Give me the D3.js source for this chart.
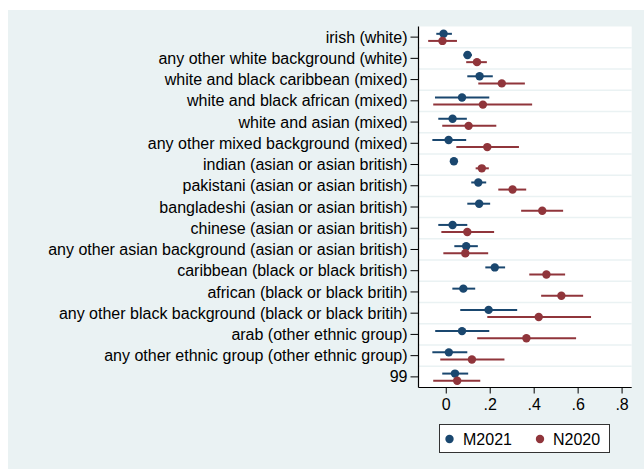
<!DOCTYPE html>
<html>
<head>
<meta charset="utf-8">
<script src="https://cdn.jsdelivr.net/npm/d3@7"></script>
<style>
  html, body { margin: 0; padding: 0; background: #ffffff; }
  svg { display: block; }
  text { font-family: "Liberation Sans", Arial, sans-serif; fill: #000; }
</style>
</head>
<body>
<svg id="chart" width="644" height="470"></svg>
<script>
// Categories (top to bottom)
const categories = [
  "irish (white)",
  "any other white background (white)",
  "white and black caribbean (mixed)",
  "white and black african (mixed)",
  "white and asian (mixed)",
  "any other mixed background (mixed)",
  "indian (asian or asian british)",
  "pakistani (asian or asian british)",
  "bangladeshi (asian or asian british)",
  "chinese (asian or asian british)",
  "any other asian background (asian or asian british)",
  "caribbean (black or black british)",
  "african (black or black britih)",
  "any other black background (black or black britih)",
  "arab (other ethnic group)",
  "any other ethnic group (other ethnic group)",
  "99"
];

// M2021 estimates with confidence bounds
const m2021Est = [-0.010, 0.099, 0.154, 0.074, 0.031, 0.013, 0.037, 0.148, 0.152, 0.031, 0.093, 0.223, 0.080, 0.195, 0.074, 0.014, 0.042];
const m2021Lo  = [-0.043, 0.081, 0.098, -0.049, -0.034, -0.061, 0.033, 0.116, 0.098, -0.034, 0.039, 0.180, 0.030, 0.066, -0.048, -0.061, -0.016];
const m2021Hi  = [0.028, 0.119, 0.214, 0.198, 0.096, 0.093, 0.041, 0.184, 0.202, 0.098, 0.146, 0.270, 0.134, 0.325, 0.198, 0.098, 0.102];

// N2020 estimates with confidence bounds
const n2020Est = [-0.015, 0.142, 0.255, 0.169, 0.104, 0.189, 0.164, 0.304, 0.439, 0.098, 0.089, 0.458, 0.526, 0.423, 0.367, 0.119, 0.052];
const n2020Lo  = [-0.080, 0.093, 0.148, -0.057, -0.016, 0.048, 0.136, 0.239, 0.343, -0.020, -0.011, 0.380, 0.434, 0.189, 0.143, -0.025, -0.057];
const n2020Hi  = [0.051, 0.187, 0.360, 0.393, 0.230, 0.333, 0.196, 0.366, 0.534, 0.220, 0.193, 0.543, 0.625, 0.661, 0.593, 0.267, 0.157];

const xTicks = [0, 0.2, 0.4, 0.6, 0.8];
const xTickLabels = ["0", ".2", ".4", ".6", ".8"];

const seriesNames = ["M2021", "N2020"];
const seriesColors = ["#1a476f", "#90353b"];

const series = [
  { name: seriesNames[0], color: seriesColors[0], est: m2021Est, lo: m2021Lo, hi: m2021Hi, offset: -3.3 },
  { name: seriesNames[1], color: seriesColors[1], est: n2020Est, lo: n2020Lo, hi: n2020Hi, offset: 3.8 }
];

const svg = d3.select("#chart");
const W = 644, H = 470;
const bg = "#eaf2f3";
const fontSize = "16px";

// Outer graph region
svg.append("rect").attr("x", 0).attr("y", 0).attr("width", W).attr("height", H).attr("fill", "#ffffff");
svg.append("rect").attr("x", 8).attr("y", 10).attr("width", W - 8).attr("height", H - 11).attr("fill", bg);

const plot = { left: 418.5, right: 631.7, top: 26.5, bottom: 387.5 };

const x = d3.scaleLinear().domain([-0.124, 0.846]).range([plot.left, plot.right]);
const y = d3.scaleBand().domain(categories).range([plot.top, plot.bottom]).padding(0);

// Plot region
svg.append("rect")
  .attr("x", plot.left).attr("y", plot.top)
  .attr("width", plot.right - plot.left).attr("height", plot.bottom - plot.top)
  .attr("fill", "#ffffff");

// Separators between categories
svg.append("g").selectAll("line")
  .data(categories.slice(1))
  .join("line")
  .attr("x1", plot.left).attr("x2", plot.right)
  .attr("y1", d => y(d)).attr("y2", d => y(d))
  .attr("stroke", bg).attr("stroke-width", 1.5);

// Y axis
const yAxis = svg.append("g")
  .attr("transform", `translate(${plot.left},0)`)
  .call(d3.axisLeft(y).tickSize(8).tickPadding(3));
yAxis.select(".domain").attr("stroke", "#000").attr("stroke-width", 1.2)
  .attr("d", `M0,${plot.top}V${plot.bottom}`);
yAxis.selectAll(".tick line").attr("stroke", "#000").attr("stroke-width", 1);
yAxis.selectAll(".tick text")
  .style("font-family", "'Liberation Sans', Arial, sans-serif")
  .style("font-size", fontSize).attr("fill", "#000").attr("dy", "0.35em");

// X axis
const xAxis = svg.append("g")
  .attr("transform", `translate(0,${plot.bottom})`)
  .call(d3.axisBottom(x).tickValues(xTicks).tickFormat((d, i) => xTickLabels[i]).tickSize(6).tickPadding(5));
xAxis.select(".domain").attr("stroke", "#000").attr("stroke-width", 1.2)
  .attr("d", `M${plot.left},0H${plot.right}`);
xAxis.selectAll(".tick line").attr("stroke", "#000").attr("stroke-width", 1);
xAxis.selectAll(".tick text")
  .style("font-family", "'Liberation Sans', Arial, sans-serif")
  .style("font-size", fontSize).attr("fill", "#000");

// Confidence intervals and point estimates
series.forEach(s => {
  const g = svg.append("g");
  const rows = categories.map((c, i) => ({ c, est: s.est[i], lo: s.lo[i], hi: s.hi[i] }));
  const cy = d => y(d.c) + y.bandwidth() / 2 + s.offset;
  g.selectAll("line")
    .data(rows)
    .join("line")
    .attr("x1", d => x(d.lo)).attr("x2", d => x(d.hi))
    .attr("y1", cy).attr("y2", cy)
    .attr("stroke", s.color).attr("stroke-width", 2);
  g.selectAll("circle")
    .data(rows)
    .join("circle")
    .attr("cx", d => x(d.est)).attr("cy", cy)
    .attr("r", 4.2).attr("fill", s.color);
});

// Legend
const legend = svg.append("g");
legend.append("rect")
  .attr("x", 439.5).attr("y", 424.5).attr("width", 170).attr("height", 28)
  .attr("fill", "#ffffff").attr("stroke", "#333").attr("stroke-width", 1);
const legendItems = [
  { name: seriesNames[0], color: seriesColors[0], mx: 449.5, tx: 463 },
  { name: seriesNames[1], color: seriesColors[1], mx: 540, tx: 553 }
];
legendItems.forEach(it => {
  legend.append("circle").attr("cx", it.mx).attr("cy", 439).attr("r", 4.2).attr("fill", it.color);
  legend.append("text").attr("x", it.tx).attr("y", 439).attr("dy", "0.36em")
    .style("font-size", fontSize).text(it.name);
});
</script>
</body>
</html>
